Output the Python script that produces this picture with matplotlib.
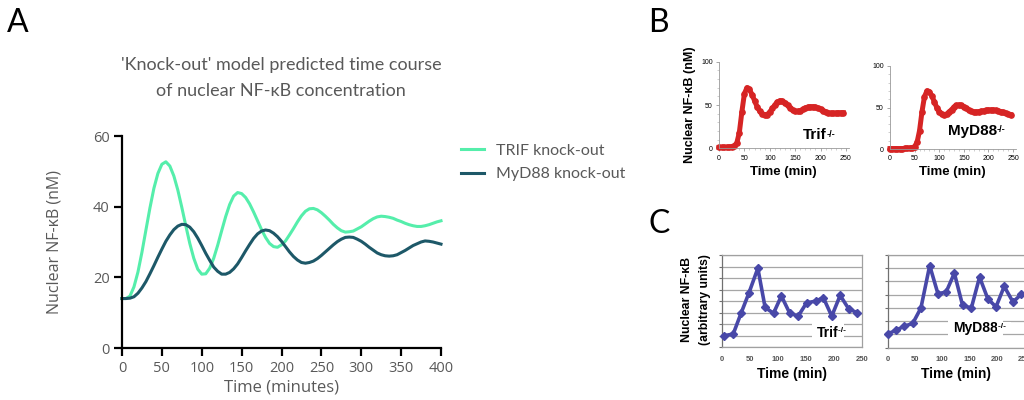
import matplotlib
matplotlib.use('Agg')
import matplotlib.pyplot as plt
from matplotlib.ticker import MultipleLocator

W, H = 1024, 400

# ---- panel A : model prediction (5 min steps) ----
a_time = list(range(0, 401, 5))
a_trif = [14.0, 14.0, 14.7, 17.3, 21.5, 27.1, 33.4, 39.6, 45.2, 49.4,
          52.0, 52.7, 51.5, 48.7, 44.7, 39.8, 34.6, 29.6, 25.4, 22.3,
          20.9, 21.0, 22.6, 25.4, 29.1, 33.2, 37.2, 40.6, 43.0, 44.0,
          43.7, 42.6, 40.8, 38.5, 36.0, 33.5, 31.3, 29.6, 28.7, 28.5,
          29.2, 30.3, 32.0, 33.8, 35.7, 37.4, 38.7, 39.4, 39.5, 39.1,
          38.3, 37.3, 36.2, 35.0, 34.0, 33.2, 32.8, 32.9, 33.1, 33.7,
          34.3, 35.1, 35.9, 36.6, 37.1, 37.3, 37.2, 37.0, 36.7, 36.2,
          35.8, 35.3, 34.9, 34.6, 34.4, 34.4, 34.6, 34.9, 35.3, 35.7,
          36.0]
a_myd88 = [14.0, 14.0, 14.1, 14.5, 15.5, 17.0, 18.8, 21.0, 23.3, 25.7,
           28.0, 30.2, 32.0, 33.5, 34.5, 35.0, 34.9, 34.2, 32.9, 31.1,
           29.0, 26.8, 24.8, 22.9, 21.7, 20.9, 20.9, 21.4, 22.4, 23.8,
           25.6, 27.5, 29.3, 31.0, 32.3, 33.1, 33.4, 33.2, 32.5, 31.5,
           30.2, 28.7, 27.2, 25.9, 24.9, 24.2, 24.0, 24.2, 24.6, 25.3,
           26.2, 27.2, 28.2, 29.2, 30.1, 30.8, 31.3, 31.4, 31.3, 30.8,
           30.2, 29.4, 28.5, 27.7, 26.9, 26.4, 26.1, 26.0, 26.1, 26.4,
           27.0, 27.6, 28.3, 29.0, 29.5, 30.0, 30.3, 30.2, 30.0, 29.7,
           29.4]
a_labels = ['TRIF knock-out', 'MyD88 knock-out']

# ---- panel B : published simulation (5 min steps) ----
b_time = list(range(0, 246, 5))
b_trif = [1, 1, 1, 1, 1.5, 2, 3, 6, 18, 42,
          63, 70, 68, 62, 55, 48, 43, 40, 38.5, 39,
          42, 46, 50, 53.5, 55, 54.5, 52.5, 49.5, 46.5, 44,
          42.5, 42.5, 43.5, 45, 46.5, 47.5, 48, 48, 47.5, 46.5,
          45, 43.5, 42, 41, 40.5, 40.5, 40.5, 41, 41, 41]
b_myd88 = [0.5, 0.5, 0.5, 0.5, 0.5, 0.5, 0.8, 1, 1.2, 1.5,
           3, 8, 22, 45, 63, 70, 69, 64, 57, 50,
           45, 42, 41, 42, 44.5, 47.5, 50.5, 52.5, 53, 52.5,
           51, 49, 47, 45.5, 44.5, 44.5, 45, 45.5, 46, 46.5,
           47, 47, 47, 46.5, 46, 45, 44, 43, 42, 41.5]

# ---- panel C : measured (arbitrary units) ----
c_trif_t = [3, 20, 34, 48, 64, 77, 92, 106, 121, 136, 151, 167, 181, 196, 211, 226, 241]
c_trif = [1.0, 1.15, 2.95, 4.7, 6.85, 3.45, 2.95, 4.45, 2.95, 2.7, 3.85, 4.0, 4.3, 2.7, 4.5, 3.35, 3.0]
c_myd88_t = [0, 16, 31, 46, 61, 77, 92, 107, 122, 137, 153, 168, 183, 198, 213, 229, 244]
c_myd88 = [1.03, 1.33, 1.63, 1.83, 3.0, 6.2, 4.08, 4.2, 5.63, 3.2, 3.0, 5.33, 3.7, 3.08, 4.63, 3.45, 4.03]


def box(x0, y_top, w, h):
    # pixel box -> figure fraction rect
    return [x0 / W, 1 - (y_top + h) / H, w / W, h / H]


def fy(y):
    return 1 - y / H


def ko_label(ax, x, y, name, size, white=False):
    # genotype label with a small "-/-" superscript
    bb = dict(facecolor='white', edgecolor='none', pad=3.5) if white else None
    t = ax.text(x, y, name, transform=ax.transAxes, fontsize=size, fontweight='bold',
                family='Liberation Sans', ha='left', va='center', bbox=bb, zorder=3)
    sup = '-/-  ' if white else '-/-'
    bb2 = dict(facecolor='white', edgecolor='none', pad=0.3) if white else None
    ax.annotate(sup, xy=(1, 1), xycoords=t, xytext=(-0.3, -1), textcoords='offset points',
                fontsize=size * 0.6, fontweight='bold', family='Liberation Sans',
                ha='left', va='top', bbox=bb2, zorder=3.1)


fig = plt.figure(figsize=(W / 100, H / 100), dpi=100)
fig.patch.set_facecolor('white')

GREY = '#595959'
MINT = '#55eeab'
TEAL = '#1d5868'
RED = '#d62424'
BLUE = '#4848a8'

# panel letters
for letter, x, y in [('A', 7, 32), ('B', 648, 32), ('C', 648, 233)]:
    fig.text(x / W, fy(y), letter, fontsize=23, family='Lato', va='baseline', ha='left')

# ================= A =================
axA = fig.add_axes(box(122, 136, 319, 212))
axA.plot(a_time, a_trif, color=MINT, lw=2.2, label=a_labels[0], clip_on=False)
axA.plot(a_time, a_myd88, color=TEAL, lw=2.2, label=a_labels[1], clip_on=False)
axA.set_xlim(0, 400)
axA.set_ylim(0, 60)
axA.set_xticks(range(0, 401, 50))
axA.set_yticks(range(0, 61, 20))
for s in ['top', 'right']:
    axA.spines[s].set_visible(False)
for s in ['left', 'bottom']:
    axA.spines[s].set_linewidth(1.6)
axA.tick_params(length=6, width=1.6, color='black', labelcolor=GREY, labelsize=10.5, pad=3)
for lab in axA.get_xticklabels() + axA.get_yticklabels():
    lab.set_family('Open Sans')
axA.set_xlabel('Time (minutes)', fontsize=12, color=GREY, family='Open Sans', labelpad=3)
axA.set_ylabel('Nuclear NF-κB (nM)', fontsize=11.5, color=GREY, family='Open Sans', labelpad=22)

fig.text(281 / W, fy(70), "'Knock-out' model predicted time course", fontsize=13,
         family='Lato', color=GREY, ha='center', va='baseline')
fig.text(281 / W, fy(96), "of nuclear NF-κB concentration", fontsize=13,
         family='Lato', color=GREY, ha='center', va='baseline')

fig.legend(loc='upper left', bbox_to_anchor=(447 / W, fy(129)), frameon=False,
           handlelength=1.4, handletextpad=0.75, labelspacing=0.6,
           prop={'family': 'Lato', 'size': 11.5}, labelcolor=GREY)


# ================= B =================
def style_b(ax):
    ax.set_xlim(0, 255)
    ax.set_ylim(0, 100)
    ax.set_xticks(range(0, 251, 50))
    ax.set_yticks([0, 50, 100])
    ax.yaxis.set_minor_locator(MultipleLocator(10))
    ax.xaxis.set_minor_locator(MultipleLocator(10))
    for s in ['top', 'right']:
        ax.spines[s].set_visible(False)
    for s in ['left', 'bottom']:
        ax.spines[s].set_linewidth(0.6)
        ax.spines[s].set_color('#999999')
    ax.tick_params(which='major', length=2.5, width=0.6, color='#999999', labelsize=5, pad=2)
    ax.tick_params(which='minor', length=1.2, width=0.5, color='#bbbbbb')
    for lab in ax.get_xticklabels() + ax.get_yticklabels():
        lab.set_family('Liberation Sans')
    ax.set_xlabel('Time (min)', fontsize=9.5, fontweight='bold', family='Liberation Sans', labelpad=3)


axB1 = fig.add_axes(box(719, 61.7, 129.5, 86.6))
axB1.plot(b_time, b_trif, color=RED, lw=3.6, marker='o', ms=3.8, clip_on=False)
style_b(axB1)
axB1.set_ylabel('Nuclear NF-κB (nM)', fontsize=9, fontweight='bold', family='Liberation Sans', labelpad=4)
ko_label(axB1, 0.65, 0.15, 'Trif', 11)

axB2 = fig.add_axes(box(890, 66, 125.5, 83))
axB2.plot(b_time, b_myd88, color=RED, lw=3.6, marker='o', ms=3.8, clip_on=False)
style_b(axB2)
ko_label(axB2, 0.46, 0.22, 'MyD88', 11)


# ================= C =================
def style_c(ax, top):
    ax.set_xlim(0, 250)
    ax.set_ylim(0, top)
    ax.set_xticks(range(0, 251, 50))
    ax.set_yticks(range(0, top + 1))
    ax.set_yticklabels([])
    ax.grid(axis='y', color='#a6a6a6', lw=0.9)
    ax.set_axisbelow(True)
    for s in ax.spines.values():
        s.set_color('#a0a0a0')
        s.set_linewidth(0.9)
    ax.spines['left'].set_color('#707070')
    ax.tick_params(axis='y', length=2.5, width=0.8, color='#707070')
    ax.tick_params(axis='x', length=0, labelsize=5.5, labelcolor='#555555', pad=6)
    for lab in ax.get_xticklabels():
        lab.set_family('Liberation Sans')
        lab.set_fontweight('bold')
    ax.set_xlabel('Time (min)', fontsize=10, fontweight='bold', family='Liberation Sans', labelpad=3)


axC1 = fig.add_axes(box(722, 255, 140, 92.3))
axC1.plot(c_trif_t, c_trif, color=BLUE, lw=2.6, marker='D', ms=4.5, clip_on=False, zorder=4)
style_c(axC1, 8)
ko_label(axC1, 0.68, 0.155, 'Trif', 10, white=True)
fig.text(687 / W, fy(300), 'Nuclear NF-κB', rotation=90, fontsize=8.8, fontweight='bold',
         family='Liberation Sans', ha='center', va='center')
fig.text(705 / W, fy(300), '(arbitrary units)', rotation=90, fontsize=8.8, fontweight='bold',
         family='Liberation Sans', ha='center', va='center')

axC2 = fig.add_axes(box(887.5, 255, 137, 92.7))
axC2.plot(c_myd88_t, c_myd88, color=BLUE, lw=2.6, marker='D', ms=4.5, clip_on=False, zorder=4)
style_c(axC2, 7)
ko_label(axC2, 0.48, 0.21, 'MyD88', 10, white=True)

fig.savefig('out.png', dpi=100)
